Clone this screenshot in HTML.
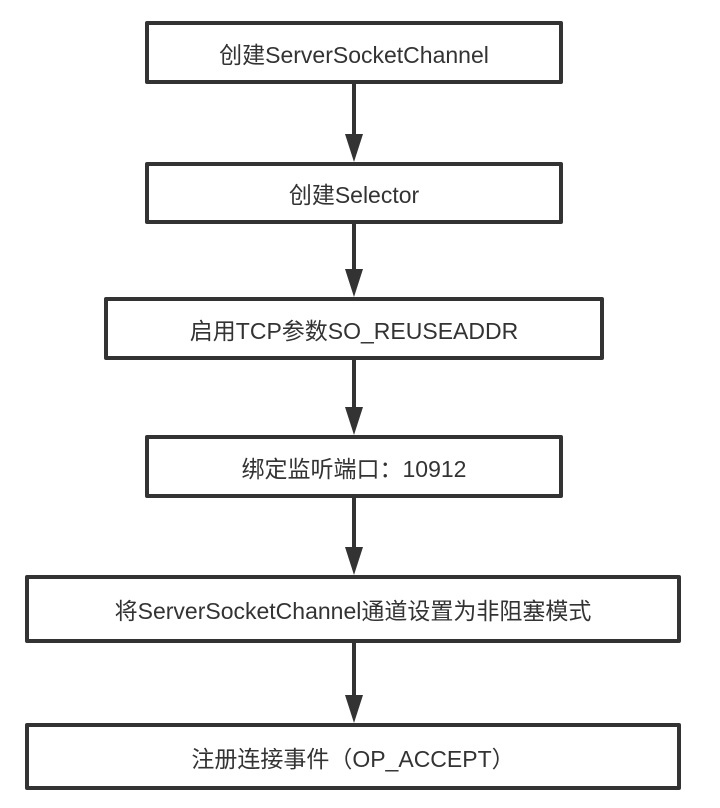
<!DOCTYPE html>
<html><head><meta charset="utf-8"><style>
body{margin:0;background:#fff;width:720px;height:808px;position:relative;overflow:hidden;font-family:"Liberation Sans","Noto Sans CJK SC",sans-serif;}
.b{position:absolute;box-sizing:border-box;border:4px solid #333;background:#fff;display:flex;align-items:center;justify-content:center;font-size:23px;color:#333;border-radius:2px;}
svg{position:absolute;left:0;top:0}
</style></head><body>
<svg width="720" height="808">
<g stroke="#333" stroke-width="4" fill="none">
<line x1="354" y1="84" x2="354" y2="140"/>
<line x1="354" y1="224" x2="354" y2="275"/>
<line x1="354" y1="360" x2="354" y2="412"/>
<line x1="354" y1="498" x2="354" y2="552"/>
<line x1="354" y1="643" x2="354" y2="700"/>
</g>
<g fill="#333">
<polygon points="345,134 363,134 354,162"/>
<polygon points="345,269 363,269 354,297"/>
<polygon points="345,407 363,407 354,435"/>
<polygon points="345,547 363,547 354,575"/>
<polygon points="345,695 363,695 354,723"/>
</g>
</svg>
<div class="b" style="left:145px;top:21px;width:418px;height:63px">创建ServerSocketChannel</div>
<div class="b" style="left:145px;top:162px;width:418px;height:62px">创建Selector</div>
<div class="b" style="left:104px;top:297px;width:500px;height:63px">启用TCP参数SO_REUSEADDR</div>
<div class="b" style="left:145px;top:435px;width:418px;height:63px">绑定监听端口：10912</div>
<div class="b" style="left:25px;top:575px;width:656px;height:68px">将ServerSocketChannel通道设置为非阻塞模式</div>
<div class="b" style="left:25px;top:723px;width:656px;height:67px">注册连接事件（OP_ACCEPT）</div>
</body></html>
